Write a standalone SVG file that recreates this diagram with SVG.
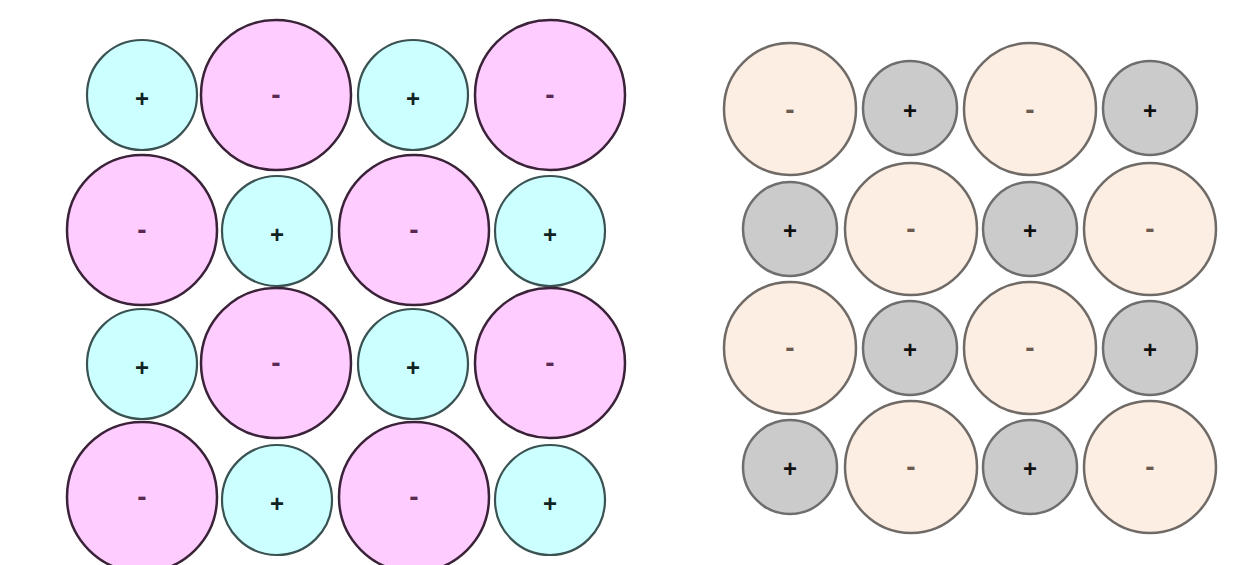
<svg xmlns="http://www.w3.org/2000/svg" width="1238" height="565" viewBox="0 0 1238 565">
<style>
.pink{fill:#ffccff;stroke:#3a2238;stroke-width:2.5}
.cyan{fill:#ccffff;stroke:#3b5252;stroke-width:2.2}
.peach{fill:#fdeee4;stroke:#6f6a66;stroke-width:2.5}
.gray{fill:#cbcbcb;stroke:#6e6e6e;stroke-width:2.5}
text{font-family:"Liberation Sans",Arial,sans-serif;font-weight:bold;text-anchor:middle}
.p{font-size:24px;fill:#112222}
.m{font-size:28px;fill:#5a2a52}
.m2{font-size:28px;fill:#6a5a50}
.p2{font-size:24px;fill:#111111}
</style>
<rect width="1238" height="565" fill="#ffffff"/>
<g id="left-lattice">
<g id="L11"><circle class="cyan" cx="142" cy="95" r="55"/><text class="p" x="142" y="107">+</text></g>
<g id="L12"><circle class="pink" cx="276" cy="95" r="75"/><text class="m" x="276" y="104">-</text></g>
<g id="L13"><circle class="cyan" cx="413" cy="95" r="55"/><text class="p" x="413" y="107">+</text></g>
<g id="L14"><circle class="pink" cx="550" cy="95" r="75"/><text class="m" x="550" y="104">-</text></g>
<g id="L21"><circle class="pink" cx="142" cy="230" r="75"/><text class="m" x="142" y="239">-</text></g>
<g id="L22"><circle class="cyan" cx="277" cy="231" r="55"/><text class="p" x="277" y="243">+</text></g>
<g id="L23"><circle class="pink" cx="414" cy="230" r="75"/><text class="m" x="414" y="239">-</text></g>
<g id="L24"><circle class="cyan" cx="550" cy="231" r="55"/><text class="p" x="550" y="243">+</text></g>
<g id="L31"><circle class="cyan" cx="142" cy="364" r="55"/><text class="p" x="142" y="376">+</text></g>
<g id="L32"><circle class="pink" cx="276" cy="363" r="75"/><text class="m" x="276" y="372">-</text></g>
<g id="L33"><circle class="cyan" cx="413" cy="364" r="55"/><text class="p" x="413" y="376">+</text></g>
<g id="L34"><circle class="pink" cx="550" cy="363" r="75"/><text class="m" x="550" y="372">-</text></g>
<g id="L41"><circle class="pink" cx="142" cy="497" r="75"/><text class="m" x="142" y="506">-</text></g>
<g id="L42"><circle class="cyan" cx="277" cy="500" r="55"/><text class="p" x="277" y="512">+</text></g>
<g id="L43"><circle class="pink" cx="414" cy="497" r="75"/><text class="m" x="414" y="506">-</text></g>
<g id="L44"><circle class="cyan" cx="550" cy="500" r="55"/><text class="p" x="550" y="512">+</text></g>
</g>
<g id="right-lattice">
<g id="R11"><circle class="peach" cx="790" cy="109" r="66"/><text class="m2" x="790" y="119">-</text></g>
<g id="R12"><circle class="gray" cx="910" cy="108" r="47"/><text class="p2" x="910" y="119">+</text></g>
<g id="R13"><circle class="peach" cx="1030" cy="109" r="66"/><text class="m2" x="1030" y="119">-</text></g>
<g id="R14"><circle class="gray" cx="1150" cy="108" r="47"/><text class="p2" x="1150" y="119">+</text></g>
<g id="R21"><circle class="gray" cx="790" cy="229" r="47"/><text class="p2" x="790" y="239">+</text></g>
<g id="R22"><circle class="peach" cx="911" cy="229" r="66"/><text class="m2" x="911" y="238">-</text></g>
<g id="R23"><circle class="gray" cx="1030" cy="229" r="47"/><text class="p2" x="1030" y="239">+</text></g>
<g id="R24"><circle class="peach" cx="1150" cy="229" r="66"/><text class="m2" x="1150" y="238">-</text></g>
<g id="R31"><circle class="peach" cx="790" cy="348" r="66"/><text class="m2" x="790" y="357">-</text></g>
<g id="R32"><circle class="gray" cx="910" cy="348" r="47"/><text class="p2" x="910" y="358">+</text></g>
<g id="R33"><circle class="peach" cx="1030" cy="348" r="66"/><text class="m2" x="1030" y="357">-</text></g>
<g id="R34"><circle class="gray" cx="1150" cy="348" r="47"/><text class="p2" x="1150" y="358">+</text></g>
<g id="R41"><circle class="gray" cx="790" cy="467" r="47"/><text class="p2" x="790" y="477">+</text></g>
<g id="R42"><circle class="peach" cx="911" cy="467" r="66"/><text class="m2" x="911" y="476">-</text></g>
<g id="R43"><circle class="gray" cx="1030" cy="467" r="47"/><text class="p2" x="1030" y="477">+</text></g>
<g id="R44"><circle class="peach" cx="1150" cy="467" r="66"/><text class="m2" x="1150" y="476">-</text></g>
</g>
<g id="connectors"/>
</svg>
